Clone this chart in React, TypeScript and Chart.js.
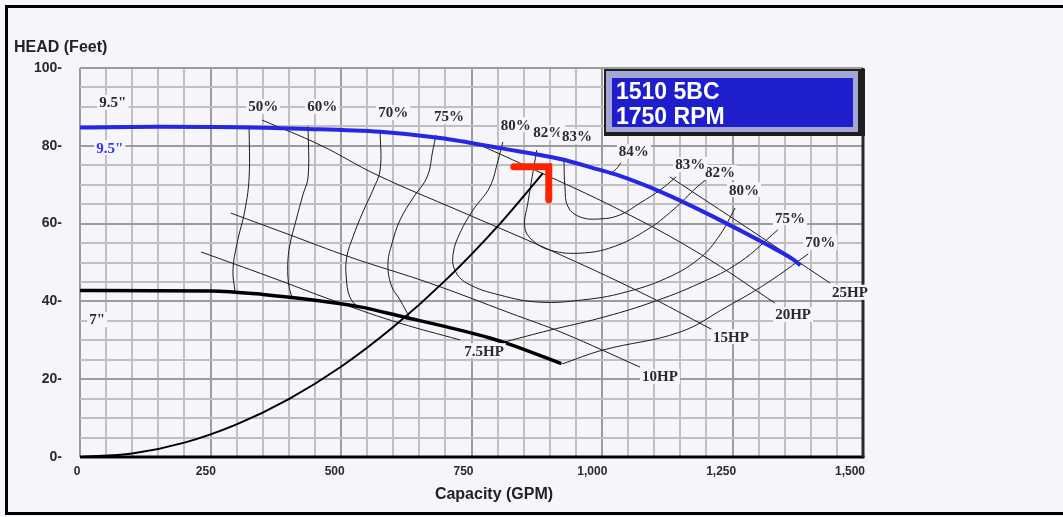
import React, { useEffect, useRef } from 'react';
import { Chart, registerables } from 'chart.js';
Chart.register(...registerables);

// ---------- axes ----------
const xTickLabels = [0, 250, 500, 750, 1000, 1250, 1500];
const yTickLabels = [0, 20, 40, 60, 80, 100];

// ---------- impeller curves (Q in GPM, H in ft) ----------
const q95 = [0, 150, 300, 421, 575, 690, 805, 920, 996, 1029, 1117, 1213, 1316, 1366, 1380];
const h95 = [84.7, 84.9, 84.8, 84.4, 83.6, 82.0, 79.4, 76.6, 73.8, 72.5, 67.9, 61.8, 54.6, 50.8, 49.3];

const q7 = [0, 250, 350, 450, 536, 620, 710, 785, 825, 922];
const h7 = [42.8, 42.7, 41.8, 40.3, 38.6, 36.0, 33.2, 30.6, 28.9, 24.0];

// system curve
const qSys = [0, 100, 200, 300, 400, 500, 600, 700, 800, 887];
const hSys = [0, 0.9, 3.7, 8.4, 14.9, 23.2, 33.4, 45.4, 59.3, 73.0];

// operating point marker
const qOp = [831, 898, 898];
const hOp = [74.6, 74.6, 66.1];

// ---------- efficiency contours ----------
const qE50 = [324, 324, 316, 301, 293, 297];
const hE50 = [85.2, 72.0, 63.5, 55.0, 48.1, 42.4];
const qE60 = [437, 437, 427, 414, 402, 398, 400, 406];
const hE60 = [85.0, 72.0, 67.4, 60.9, 54.5, 49.4, 44.2, 41.0];
const qE70 = [575, 575, 561, 542, 523, 511, 510, 517, 533];
const hE70 = [84.1, 73.8, 68.6, 63.0, 56.6, 51.4, 46.3, 41.1, 38.3];
const qE75 = [682, 676, 665, 638, 613, 598, 590, 596, 613, 632];
const hE75 = [82.8, 78.9, 72.0, 66.6, 60.9, 55.0, 49.9, 44.2, 40.4, 35.7];
const qE80 = [810, 801, 785, 753, 728, 715, 718, 741, 805, 881, 964, 1040, 1124, 1188, 1226, 1255];
const hE80 = [81.0, 76.3, 69.4, 63.5, 57.6, 52.4, 48.1, 44.7, 41.6, 39.8, 40.4, 42.2, 46.0, 51.2, 57.1, 64.0];
const qE82 = [875, 858, 852, 866, 900, 958, 1021, 1086, 1136, 1182, 1203];
const hE82 = [78.9, 65.3, 59.1, 55.8, 53.2, 52.4, 54.0, 58.4, 63.5, 69.4, 71.7];
const qE83 = [927, 929, 935, 958, 996, 1034, 1073, 1111, 1142];
const hE83 = [76.9, 69.4, 64.3, 61.7, 61.2, 62.2, 65.3, 68.6, 72.0];
const qE84 = [1017, 1027, 1036];
const hE84 = [73.0, 74.0, 75.6];
const qE75r = [814, 900, 996, 1092, 1188, 1264, 1337];
const hE75r = [29.6, 32.6, 35.7, 39.6, 44.7, 50.1, 58.4];
const qE70r = [923, 1002, 1149, 1239, 1316, 1395];
const hE70r = [23.9, 27.5, 32.1, 38.6, 44.7, 52.2];

// ---------- power lines ----------
const qP75 = [232, 364, 498, 613, 728];
const hP75 = [52.7, 46.3, 39.6, 34.4, 30.1];
const qP10 = [289, 402, 517, 670, 824, 925, 1073];
const hP10 = [62.7, 57.1, 51.4, 44.7, 37.0, 31.9, 23.1];
const qP15 = [349, 460, 569, 728, 900, 1073, 1213];
const hP15 = [86.6, 80.2, 72.5, 63.2, 53.2, 42.4, 32.6];
const qP20 = [766, 868, 1034, 1188, 1331];
const hP20 = [80.2, 74.0, 63.5, 52.2, 39.6];
const qP25 = [1130, 1284, 1437];
const hP25 = [72.0, 58.4, 44.7];

// ---------- labels ----------
const effLabels = ['50%', '60%', '70%', '75%', '80%', '82%', '83%', '84%', '82%', '83%', '80%', '75%', '70%'];
const effLabelQ = [351, 464, 600, 707, 835, 897, 952, 1061, 1226, 1169, 1272, 1360, 1418];
const effLabelH = [90.0, 90.0, 88.4, 87.4, 85.3, 83.3, 82.3, 78.4, 73.0, 75.1, 68.6, 61.4, 55.0];

const hpLabels = ['7.5HP', '10HP', '15HP', '20HP', '25HP'];
const hpLabelQ = [774, 1111, 1247, 1366, 1475];
const hpLabelH = [27.2, 20.6, 30.8, 36.5, 42.2];

const diaLabels = ['9.5"', '9.5"', '7"'];
const diaLabelQ = [63, 57, 33];
const diaLabelH = [91.0, 79.4, 35.2];

const titleLines = ['1510 5BC', '1750 RPM'];
const yTitle = 'HEAD (Feet)';
const xTitle = 'Capacity (GPM)';

const BG = '#f6f6fa';

export default function App() {
  const ref = useRef<HTMLCanvasElement>(null);
  useEffect(() => {
    document.body.style.margin = '0';
    const canvas = ref.current!;
    const pts = (qs: number[], hs: number[]) => qs.map((q, i) => ({ x: q, y: hs[i] }));
    const thin = (qs: number[], hs: number[]) => ({
      data: pts(qs, hs), borderColor: '#1c1c1c', borderWidth: 1, pointRadius: 0, tension: 0.4, fill: false,
    });
    const datasets: any[] = [
      { data: pts(qOp, hOp), borderColor: '#ff2200', borderWidth: 7, pointRadius: 0, tension: 0, borderCapStyle: 'round', borderJoinStyle: 'miter' },
      { data: pts(q95, h95), borderColor: '#2626e4', borderWidth: 4, pointRadius: 0, cubicInterpolationMode: 'monotone' },
      { data: pts(q7, h7), borderColor: '#000', borderWidth: 3.5, pointRadius: 0, cubicInterpolationMode: 'monotone' },
      { data: pts(qSys, hSys), borderColor: '#000', borderWidth: 2, pointRadius: 0, cubicInterpolationMode: 'monotone' },
      thin(qE50, hE50), thin(qE60, hE60), thin(qE70, hE70), thin(qE75, hE75), thin(qE80, hE80),
      thin(qE82, hE82), thin(qE83, hE83), thin(qE84, hE84), thin(qE75r, hE75r), thin(qE70r, hE70r),
      thin(qP75, hP75), thin(qP10, hP10), thin(qP15, hP15), thin(qP20, hP20), thin(qP25, hP25),
    ];

    const overlay = {
      id: 'overlay',
      beforeDraw(chart: any) {
        const c = chart.ctx;
        c.save();
        c.fillStyle = BG;
        c.fillRect(0, 0, chart.width, chart.height);
        c.restore();
      },
      afterDatasetsDraw(chart: any) {
        const c = chart.ctx;
        const xs = chart.scales.x, ys = chart.scales.y;
        const a = chart.chartArea;
        c.save();
        // plot borders
        c.strokeStyle = '#000';
        c.lineWidth = 3;
        c.beginPath(); c.moveTo(a.left, a.bottom); c.lineTo(a.right + 1.5, a.bottom); c.stroke();
        c.strokeStyle = '#2a2a2a';
        c.beginPath(); c.moveTo(a.right, a.top); c.lineTo(a.right, a.bottom); c.stroke();

        // x tick labels (drawn slightly left of their grid lines, as in the source)
        c.fillStyle = '#2a2a2a';
        c.font = 'bold 12px "Liberation Sans"';
        c.textAlign = 'center';
        c.textBaseline = 'middle';
        xTickLabels.forEach((v) => {
          const px = xs.getPixelForValue(v) - 3 - (10 * v) / 1500;
          c.fillText(v.toLocaleString('en-US'), px, a.bottom + 15);
        });

        const label = (t: string, q: number, h: number, font: string, color: string) => {
          const x = xs.getPixelForValue(q), y = ys.getPixelForValue(h);
          c.font = font;
          const w = c.measureText(t).width;
          c.fillStyle = BG;
          c.fillRect(x - w / 2 - 2, y - 8, w + 4, 15);
          c.fillStyle = color;
          c.textAlign = 'center';
          c.textBaseline = 'middle';
          c.fillText(t, x, y + 0.5);
        };
        const f = 'bold 15px "Liberation Serif"';
        effLabels.forEach((t, i) => label(t, effLabelQ[i], effLabelH[i], f, '#2a2a2a'));
        hpLabels.forEach((t, i) => label(t, hpLabelQ[i], hpLabelH[i], f, '#2a2a2a'));
        diaLabels.forEach((t, i) => label(t, diaLabelQ[i], diaLabelH[i], f, i === 1 ? '#3535ff' : '#2a2a2a'));

        // title box
        c.fillStyle = '#1e1e1e';
        c.fillRect(604, 69, 261, 67);
        c.fillStyle = '#a6a6d4';
        c.fillRect(606, 71, 252, 61);
        c.fillStyle = '#1e1ecc';
        c.fillRect(612, 78, 241, 49);
        c.fillStyle = '#fff';
        c.font = 'bold 23px "Liberation Sans"';
        c.textAlign = 'left';
        c.textBaseline = 'middle';
        c.fillText(titleLines[0], 616, 93);
        c.fillText(titleLines[1], 616, 118);

        // axis titles
        c.fillStyle = '#222';
        c.font = 'bold 16px "Liberation Sans"';
        c.textAlign = 'left';
        c.fillText(yTitle, 14, 48);
        c.textAlign = 'center';
        c.fillText(xTitle, 494, 495);

        // outer frame
        c.strokeStyle = '#000';
        c.lineWidth = 3;
        c.strokeRect(6.5, 6.5, 1100, 507);
        c.restore();
      },
    };

    const isMult = (v: number, m: number) => Math.abs(Math.round(v) % m) === 0;
    const chart = new Chart(canvas, {
      type: 'line',
      data: { datasets },
      options: {
        animation: false,
        responsive: false,
        layout: { padding: { top: 68, right: 200, bottom: 0, left: 0 } },
        plugins: { legend: { display: false }, tooltip: { enabled: false } },
        scales: {
          x: {
            type: 'linear', min: 0, max: 1500,
            afterFit: (s: any) => { s.height = 60; },
            ticks: { stepSize: 50, autoSkip: false, maxRotation: 0, display: false },
            grid: {
              color: (ctx: any) => (ctx.tick && isMult(ctx.tick.value, 250) ? '#9c9c9c' : '#c0c0c0'),
              lineWidth: 2, drawTicks: false,
            },
            border: { display: false },
          },
          y: {
            type: 'linear', min: 0, max: 100,
            afterFit: (s: any) => { s.width = 80; },
            ticks: {
              stepSize: 5, autoSkip: false, padding: 18, color: '#2a2a2a',
              font: { family: '"Liberation Sans"', weight: 'bold', size: 14 },
              callback: (v: any) => (yTickLabels.includes(Math.round(v)) ? Math.round(v) + '-' : ''),
            },
            grid: {
              color: (ctx: any) => (ctx.tick && isMult(ctx.tick.value, 20) ? '#9c9c9c' : '#c0c0c0'),
              lineWidth: 2, drawTicks: false,
            },
            border: { display: false },
          },
        },
      } as any,
      plugins: [overlay],
    });
    return () => chart.destroy();
  }, []);
  return <canvas ref={ref} width={1063} height={517} style={{ display: 'block' }} />;
}
